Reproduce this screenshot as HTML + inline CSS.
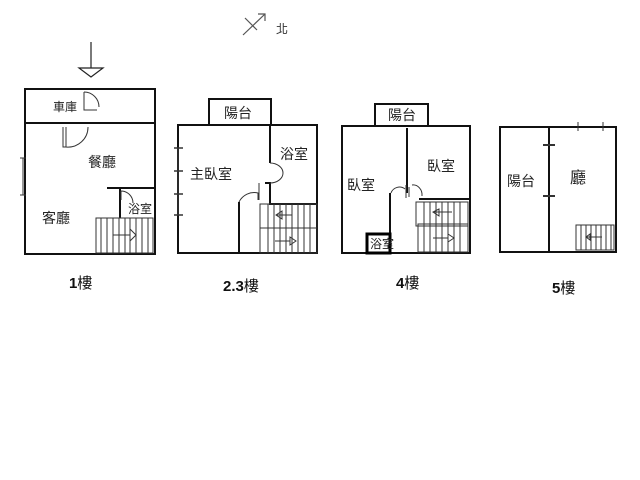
<!DOCTYPE html>
<html><head><meta charset="utf-8"><style>body{margin:0;background:#fff}svg{display:block}</style></head><body>
<svg width="640" height="480" viewBox="0 0 640 480" xmlns="http://www.w3.org/2000/svg" font-family="'Liberation Sans','Noto Sans CJK TC',sans-serif">
<g stroke="#555" stroke-width="1.2" fill="none">
<line x1="243" y1="35" x2="265" y2="14"/><line x1="245" y1="18" x2="257" y2="30"/><path d="M258 14 L265 14 L265 21"/>
</g>
<text x="276" y="33" font-size="12" fill="#333">北</text>
<g stroke="#222" stroke-width="1.2" fill="none">
<line x1="91" y1="42" x2="91" y2="68"/><path d="M79 68 L103 68 L91 77 Z"/>
</g>
<g stroke="#111" stroke-width="2" fill="none">
<rect x="25" y="89" width="130" height="165"/>
<line x1="25" y1="123" x2="155" y2="123"/>
<line x1="107" y1="188" x2="155" y2="188"/>
<line x1="120" y1="188" x2="120" y2="218"/>
<rect x="178" y="125" width="139" height="128"/>
<rect x="209" y="99" width="62" height="26"/>
<path d="M270 125 L270 163 M265 183 L270 183 L270 204 L317 204"/>
<line x1="239" y1="202" x2="239" y2="254"/>
<rect x="342" y="126" width="128" height="127"/>
<rect x="375" y="104" width="53" height="22"/>
<line x1="407" y1="128" x2="407" y2="193"/>
<line x1="390" y1="193" x2="390" y2="253"/>
<line x1="419" y1="199" x2="469" y2="199"/>
<rect x="500" y="127" width="116" height="125"/>
<line x1="549" y1="127" x2="549" y2="252"/>
</g>
<rect x="367" y="234" width="23" height="19" fill="none" stroke="#000" stroke-width="3"/>
<g stroke="#333" stroke-width="1" fill="none">
<path d="M84 92 L84 110 L97 110 M84 110"/><path d="M84 92 A15 15 0 0 1 99 107"/>
<path d="M63 127 L63 147 L66 147 L66 127 M66 147 A20 20 0 0 0 88 127"/>
<path d="M121 191 L121 200 M121 191 A12 12 0 0 1 133 203"/>
<path d="M270 163 A13 10 0 0 1 270 183 M259 183 L259 200"/>
<path d="M239 202 A17 17 0 0 1 258 193 L258 200"/>
<path d="M391 193 A9 9 0 0 1 405 189 M409 187 L409 197 M412 185 A9 10 0 0 1 422 196"/>
<line x1="406" y1="185" x2="406" y2="198"/>
<path d="M23 158 L23 195 M20 158 L26 158 M20 195 L26 195"/>
<path d="M178 148 L178 215 M174 148 L183 148 M174 171 L183 171 M174 194 L183 194 M174 215 L183 215" stroke-width="1.5"/>
<path d="M578 122 L578 131 M603 122 L603 131"/>
<path d="M543 145 L555 145 M543 196 L555 196" stroke-width="2"/>
<rect x="96" y="218" width="57" height="35"/>
<path d="M101 218 V253 M107 218 V253 M113 218 V253 M119 218 V253 M125 218 V253 M130 218 V253 M136 218 V253 M142 218 V253 M148 218 V253"/>
<path d="M113 235 H130 M130 229 L136 235 L130 241 Z"/>
<rect x="260" y="204" width="57" height="24"/>
<rect x="260" y="228" width="57" height="25"/>
<path d="M268 204 V253 M274 204 V253 M280 204 V253 M286 204 V253 M292 204 V253 M298 204 V253 M304 204 V253 M310 204 V253"/>
<path d="M276 215 H292 M282 211 L276 215 L282 219 Z M275 241 H290 M290 237 L296 241 L290 245 Z"/>
<rect x="416" y="202" width="52" height="24"/>
<rect x="418" y="224" width="50" height="28"/>
<path d="M424 202 V252 M430 202 V252 M436 202 V252 M442 202 V252 M448 202 V252 M454 202 V252 M460 202 V252"/>
<path d="M433 212 H452 M439 209 L433 212 L439 216 Z M433 238 H448 M448 234 L454 238 L448 242 Z"/>
<rect x="576" y="225" width="38" height="25"/>
<path d="M581 225 V250 M586 225 V250 M591 225 V250 M596 225 V250 M601 225 V250 M606 225 V250 M611 225 V250"/>
<path d="M586 237 H602 M590 234 L586 237 L590 240 Z"/>
</g>
<g fill="#222" font-size="14">
<text x="53" y="111" font-size="12">車庫</text>
<text x="88" y="167">餐廳</text>
<text x="42" y="223">客廳</text>
<text x="128" y="213" font-size="12">浴室</text>
<text x="224" y="118">陽台</text>
<text x="280" y="159">浴室</text>
<text x="190" y="179">主臥室</text>
<text x="388" y="120">陽台</text>
<text x="427" y="171">臥室</text>
<text x="347" y="190">臥室</text>
<text x="370" y="248" font-size="12">浴室</text>
<text x="507" y="186">陽台</text>
<text x="570" y="183" font-size="16">廳</text>
</g>
<g fill="#111" font-weight="bold" font-size="15">
<text x="69" y="288">1<tspan font-weight="normal">樓</tspan></text>
<text x="223" y="291">2.3<tspan font-weight="normal">樓</tspan></text>
<text x="396" y="288">4<tspan font-weight="normal">樓</tspan></text>
<text x="552" y="293">5<tspan font-weight="normal">樓</tspan></text>
</g>
</svg>
</body></html>
